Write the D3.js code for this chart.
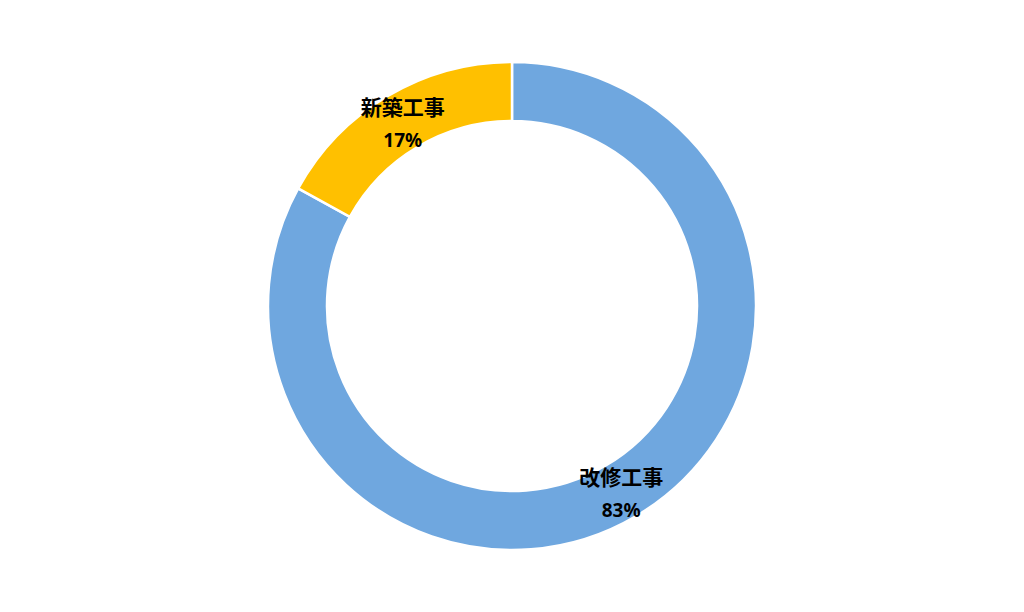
<!DOCTYPE html>
<html><head><meta charset="utf-8">
<script src="https://cdn.jsdelivr.net/npm/d3@7"></script>
<style>body{margin:0;background:#fff}svg{display:block}</style>
</head><body>
<script>
const categories = ["改修工事", "新築工事"];
const values = [83, 17];
const colors = ["#6FA7DF", "#FFC000"];

const W = 1024, H = 612, cx = 512, cy = 306, rOuter = 244, rInner = 185;
const svg = d3.select("body").append("svg").attr("width", W).attr("height", H);
const g = svg.append("g").attr("transform", `translate(${cx},${cy})`);
const pie = d3.pie().sort(null).value(d => d)(values);
const arc = d3.arc().innerRadius(rInner).outerRadius(rOuter);
const labelArc = d3.arc().innerRadius((rInner + rOuter) / 2).outerRadius((rInner + rOuter) / 2);
const total = d3.sum(values);

g.selectAll("path").data(pie).join("path")
  .attr("d", arc).attr("fill", (d, i) => colors[i])
  .attr("stroke", "#fff").attr("stroke-width", 2.5);

const lab = g.selectAll("g.lab").data(pie).join("g").attr("class", "lab")
  .attr("transform", d => `translate(${labelArc.centroid(d)})`);
lab.append("text").attr("y", -15).attr("text-anchor", "middle").attr("dominant-baseline", "central")
  .attr("font-family", "'Noto Sans CJK JP', 'Noto Sans', sans-serif").attr("font-weight", "bold")
  .attr("font-size", 21).attr("fill", "#000").text((d, i) => categories[i]);
lab.append("text").attr("y", 19).attr("text-anchor", "middle").attr("dominant-baseline", "central")
  .attr("font-family", "'Noto Sans', 'Noto Sans CJK JP', sans-serif").attr("font-weight", "bold")
  .attr("font-size", 19).attr("fill", "#000").text((d, i) => Math.round(values[i] / total * 100) + "%");
</script>
</body></html>
